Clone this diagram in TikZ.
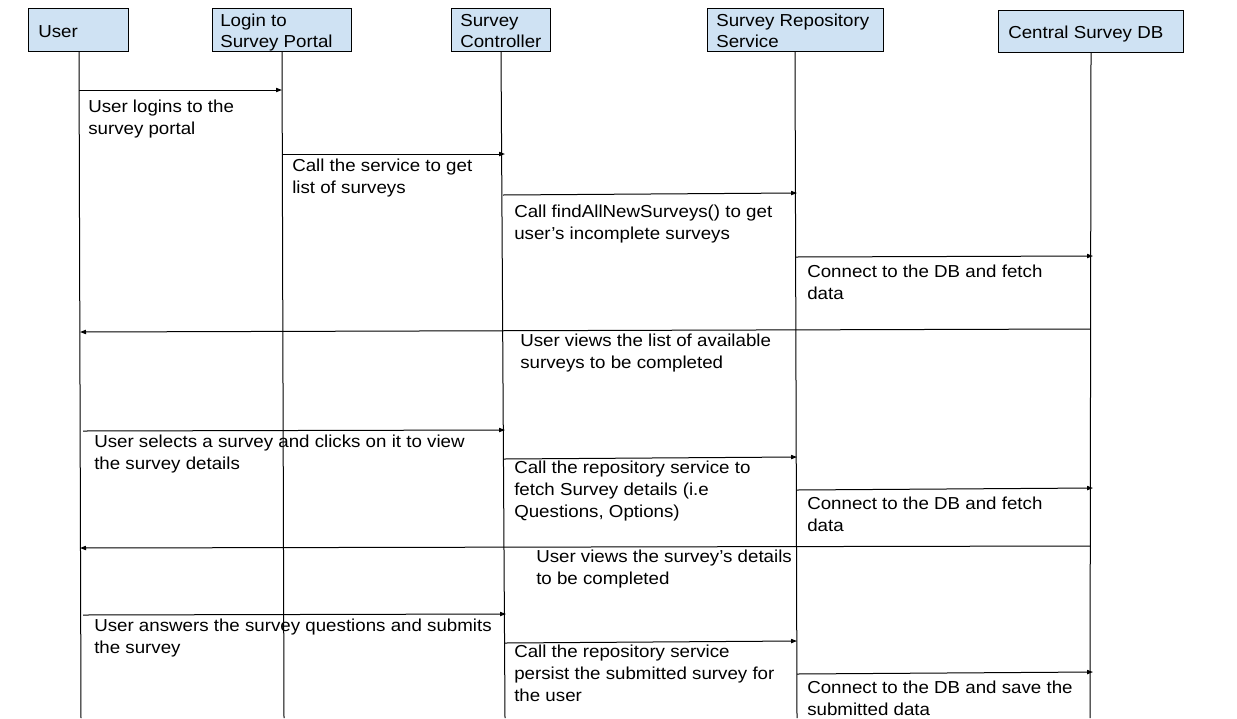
\documentclass[tikz,border=0pt]{standalone}
\usepackage{fontspec}
\setmainfont{Liberation Sans}[FakeStretch=1.08]
\usetikzlibrary{arrows.meta}
\begin{document}
\begin{tikzpicture}[x=0.75pt,y=-0.75pt,
  every node/.style={font=\fontsize{13}{16.5}\selectfont},
  hdr/.style={draw=black,line width=0.75pt,fill=hdrblue,inner sep=0pt,minimum height=32.25pt},
  htxt/.style={anchor=north west,inner sep=0pt,align=left,font=\fontsize{13}{15.75}\selectfont},
  life/.style={draw=black,line width=0.75pt},
  msg/.style={draw=black,line width=0.75pt,-{Triangle[length=4.5pt,width=3.2pt]}},
  lbl/.style={anchor=north west,inner sep=0pt,align=left}]
\definecolor{hdrblue}{HTML}{CFE2F3}
\fill[white] (0,0) rectangle (1237,718);
\useasboundingbox (0,0) rectangle (1237,718);
% headers
\node[hdr,minimum width=75pt] (user) at (78,29.5) {};
\node[hdr,minimum width=104.25pt] (login) at (281.5,29.5) {};
\node[hdr,minimum width=74.25pt] (ctrl) at (500.5,29.5) {};
\node[hdr,minimum width=132pt] (repo) at (795,29.5) {};
\node[hdr,minimum width=138.75pt,minimum height=31.5pt] (db) at (1090.5,31) {};
\node[htxt] (userT) at (38,25) {User};
\node[htxt] (loginT) at (220,14) {Login to\\Survey Portal};
\node[htxt] (ctrlT) at (460,14) {Survey\\Controller};
\node[htxt] (repoT) at (716,14) {Survey Repository\\Service};
\node[htxt] (dbT) at (1008,26) {Central Survey DB};
% lifelines
\coordinate (uB) at (81,718);
\coordinate (lB) at (284,718);
\coordinate (cB) at (505,718);
\coordinate (rB) at (797,718);
\coordinate (dB) at (1090,718);
\draw[life] (user.south -| 79,0) -- (uB);
\draw[life] (login.south -| 282,0) -- (lB);
\draw[life] (ctrl.south -| 501,0) -- (cB);
\draw[life] (repo.south -| 795,0) -- (rB);
\draw[life] (db.south -| 1091,0) -- (dB);
% message end points
\coordinate (m1a) at (79,90);   \coordinate (m1b) at (282,90);
\coordinate (m2a) at (283,154); \coordinate (m2b) at (505,154);
\coordinate (m3a) at (503,195); \coordinate (m3b) at (797,193);
\coordinate (m4a) at (796,257); \coordinate (m4b) at (1093,256);
\coordinate (m5a) at (1090,329); \coordinate (m5b) at (80,332);
\coordinate (m6a) at (83,431);  \coordinate (m6b) at (505,430);
\coordinate (m7a) at (504,459); \coordinate (m7b) at (797,457);
\coordinate (m8a) at (797,490); \coordinate (m8b) at (1093,488);
\coordinate (m9a) at (1090,546); \coordinate (m9b) at (80,548);
\coordinate (m10a) at (83,615); \coordinate (m10b) at (506,614);
\coordinate (m11a) at (505,643); \coordinate (m11b) at (797,641);
\coordinate (m12a) at (797,674); \coordinate (m12b) at (1093,672);
\draw[msg] (m1a) -- (m1b);
\draw[msg] (m2a) -- (m2b);
\draw[msg] (m3a) -- (m3b);
\draw[msg] (m4a) -- (m4b);
\draw[msg] (m5a) -- (m5b);
\draw[msg] (m6a) -- (m6b);
\draw[msg] (m7a) -- (m7b);
\draw[msg] (m8a) -- (m8b);
\draw[msg] (m9a) -- (m9b);
\draw[msg] (m10a) -- (m10b);
\draw[msg] (m11a) -- (m11b);
\draw[msg] (m12a) -- (m12b);
% labels
\node[lbl] (t1) at (88,100) {User logins to the\\survey portal};
\node[lbl] (t2) at (292,159) {Call the service to get\\list of surveys};
\node[lbl] (t3) at (514,205) {Call findAllNewSurveys() to get\\user’s incomplete surveys};
\node[lbl] (t4) at (807,265) {Connect to the DB and fetch\\data};
\node[lbl] (t5) at (520,334) {User views the list of available\\surveys to be completed};
\node[lbl] (t6) at (94,435) {User selects a survey and clicks on it to view\\the survey details};
\node[lbl] (t7) at (514,461) {Call the repository service to\\fetch Survey details (i.e\\Questions, Options)};
\node[lbl] (t8) at (807,497) {Connect to the DB and fetch\\data};
\node[lbl] (t9) at (536,550) {User views the survey’s details\\to be completed};
\node[lbl] (t10) at (94,619) {User answers the survey questions and submits\\the survey};
\node[lbl] (t11) at (514,645) {Call the repository service\\persist the submitted survey for\\the user};
\node[lbl] (t12) at (807,681) {Connect to the DB and save the\\submitted data};
\end{tikzpicture}
\end{document}
